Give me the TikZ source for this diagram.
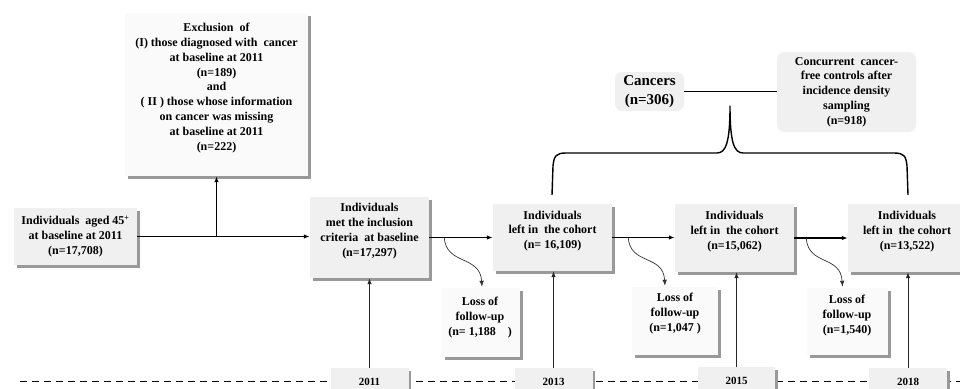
\documentclass[tikz,border=0pt]{standalone}
\usepackage{fontspec}
\setmainfont{Liberation Serif}
\usetikzlibrary{arrows.meta,shadows,calc}
\newcommand\tbf{\bfseries\fontsize{12}{14.8}\selectfont}
\begin{document}
\begin{tikzpicture}[x=1pt,y=-1pt,
  panel/.style={fill=black!6, align=center, font=\tbf, inner sep=0pt,
    drop shadow={shadow xshift=2.5pt, shadow yshift=-2.5pt, fill=black!40, opacity=1}},
  lightpanel/.style={panel, fill=black!2},
  txt/.style={align=center, font=\tbf, inner sep=0pt},
  yearbox/.style={panel, font=\bfseries\fontsize{11}{13}\selectfont, minimum width=78pt, minimum height=28pt},
  roundbox/.style={fill=black!6, rounded corners=7pt, align=center, font=\tbf, inner sep=0pt},
  arr/.style={-{Latex[length=6pt,width=4.5pt]}, line width=1.3pt},
  uparr/.style={-{Latex[length=6pt,width=4.5pt]}, line width=0.8pt, black!85},
  curv/.style={-{Latex[length=6pt,width=4.5pt]}, line width=0.7pt, black!80},
]
\useasboundingbox (0,0) rectangle (960,388);
% timeline
\draw[line width=1pt, dash pattern=on 7pt off 5pt] (20,381) -- (960,381);

% boxes
\node[panel, minimum width=123pt, minimum height=57pt] (start) at (75.5,236.5)
  {Individuals\ \ aged 45\textsuperscript{+}\\ at baseline at 2011\\ (n=17,708)};
\node[lightpanel, minimum width=183pt, minimum height=163pt] (excl) at (216.5,94.5) {};
\node[txt] (exclt) at (216.5,88)
  {Exclusion\ \ of\\ (I) those diagnosed with\ \ cancer\\ at baseline at 2011\\ (n=189)\\ and\\ ( II ) those whose information\\ on cancer was missing\\ at baseline at 2011\\ (n=222)};
\node[panel, minimum width=119pt, minimum height=81pt] (incl) at (369.5,237.5) {};
\node[txt] (inclt) at (369.5,231)
  {Individuals\\ met the inclusion\\ criteria\ \ at baseline\\ (n=17,297)};
\node[panel, minimum width=119pt, minimum height=67pt] (c13) at (552.5,237.5) {};
\node[txt] (c13t) at (552.5,231) {Individuals\\ left in\ \ the cohort\\ (n= 16,109)};
\node[panel, minimum width=119pt, minimum height=68pt] (c15) at (734.5,238) {};
\node[txt] (c15t) at (734.5,231.5) {Individuals\\ left in\ \ the cohort\\ (n=15,062)};
\node[panel, minimum width=118pt, minimum height=68pt] (c18) at (907,238) {};
\node[txt] (c18t) at (907,231.5) {Individuals\\ left in\ \ the cohort\\ (n=13,522)};
\node[lightpanel, minimum width=78pt, minimum height=69pt] (loss1) at (481,322.5) {};
\node[txt] (loss1t) at (480,317.5) {Loss of\\ follow-up\\ (n= 1,188\ \ \ \ )};
\node[lightpanel, minimum width=86pt, minimum height=68pt] (loss2) at (675,321) {};
\node[txt] (loss2t) at (675,313.5) {Loss of\\ follow-up\\ (n=1,047 )};
\node[lightpanel, minimum width=81pt, minimum height=67pt] (loss3) at (847.5,321.5) {};
\node[txt] (loss3t) at (847,315.5) {Loss of\\ follow-up\\ (n=1,540)};

\node[yearbox] (y11) at (369.5,382) {2011};
\node[yearbox] (y13) at (553.5,382) {2013};
\node[yearbox, minimum width=77pt] (y15) at (736.5,381) {2015};
\node[yearbox] (y18) at (908,382) {2018};

\node[roundbox, minimum width=69pt, minimum height=39pt, font=\bfseries\fontsize{15}{19}\selectfont] (canc) at (649.5,91.5)
  {Cancers\\ (n=306)};
\node[roundbox, minimum width=139pt, minimum height=80pt] (conc) at (846.5,92)
  {Concurrent\ \ cancer-\\ free controls after\\ incidence density\\ sampling\\ (n=918)};

% main flow
\draw[arr] (start.east) -- (start.east -| incl.west);
\coordinate (br) at (start.east -| excl.south);
\draw[arr] (br) -- (excl.south);
\draw[arr] (incl.east) -- (incl.east -| c13.west);
\draw[arr] (c13.east) -- (c13.east -| c15.west);
\draw[arr] (c15.east) -- (c15.east -| c18.west);

% losses
\coordinate (s1) at ($(incl.east)+(15,0)$);
\coordinate (e1) at ($(loss1.north)+(1,-1)$);
\draw[curv] (s1) .. controls ($(s1)+(2,28)$) and ($(e1)+(-2,-32)$) .. (e1);
\coordinate (s2) at ($(c13.east)+(16,0)$);
\coordinate (e2) at ($(loss2.north)+(-10,-1)$);
\draw[curv] (s2) .. controls ($(s2)+(2,28)$) and ($(e2)+(-2,-32)$) .. (e2);
\coordinate (s3) at ($(c15.east)+(12,0)$);
\coordinate (e3) at ($(loss3.north)+(-5,-1)$);
\draw[curv] (s3) .. controls ($(s3)+(2,28)$) and ($(e3)+(-2,-32)$) .. (e3);

% year arrows
\draw[uparr] (y11.north) -- (incl.south);
\draw[uparr] (y13.north) -- (y13.north |- c13.south);
\draw[uparr] (y15.north) -- (y15.north |- c15.south);
\draw[uparr] (y18.north) -- (y18.north |- c18.south);

% cancers / controls
\draw[line width=0.7pt] (canc.east) -- (canc.east -| conc.west);

% brace
\coordinate (bl) at (552,195);
\coordinate (bt) at (730,106);
\coordinate (brr) at (908,195);
\draw[line width=1.4pt, line join=round]
  (bl) -- (553,166) .. controls (554,156) and (556,153) .. (566,153) -- (717,153)
  .. controls (726,153) and (730,142) .. (bt)
  .. controls (730,142) and (734,153) .. (743,153) -- (894,153)
  .. controls (904,153) and (906,156) .. (907,166) -- (brr);
\end{tikzpicture}
\end{document}
